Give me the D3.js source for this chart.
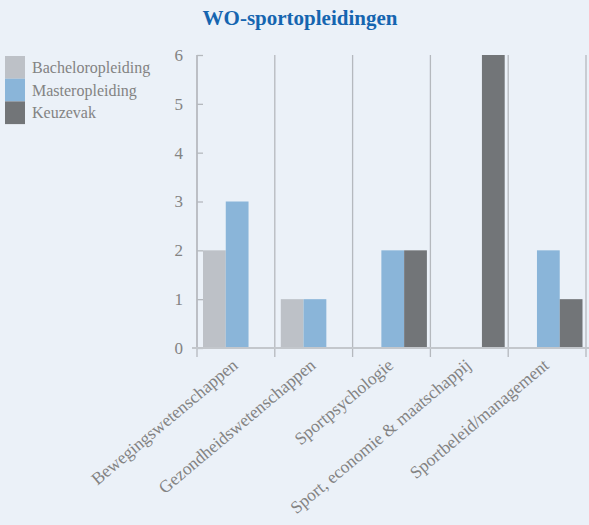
<!DOCTYPE html>
<html><head><meta charset="utf-8">
<script src="https://cdn.jsdelivr.net/npm/d3@7"></script>
<style>html,body{margin:0;padding:0;background:#ebf1f8;}svg{display:block;}</style>
</head><body>
<script>
const categories = ["Bewegingswetenschappen","Gezondheidswetenschappen","Sportpsychologie","Sport, economie & maatschappij","Sportbeleid/management"];
const seriesNames = ["Bacheloropleiding","Masteropleiding","Keuzevak"];
const bachelor = [2,1,0,0,0];
const master = [3,1,2,0,2];
const keuzevak = [0,0,2,6,1];
const yTicks = [0,1,2,3,4,5,6];
const colors = ["#bdc1c7","#8ab5d9","#727578"];
const title = "WO-sportopleidingen";

(function(){
const W=589,H=525;
const svg=d3.select("body").append("svg").attr("width",W).attr("height",H);
svg.append("rect").attr("width",W).attr("height",H).attr("fill","#ebf1f8");
const font="'Liberation Serif','Times New Roman',serif";
const textCol="#838383";
const pL=197,pR=586,pT=55,pB=348;
const x=d3.scaleBand().domain(categories).range([pL,pR]).padding(0);
const x1=d3.scaleBand().domain(seriesNames).range([6,x.bandwidth()-3.5]).padding(0);
const y=d3.scaleLinear().domain([0,6]).range([pB,pT]);
const series=[bachelor,master,keuzevak];

svg.append("text").attr("x",300).attr("y",25).attr("text-anchor","middle")
 .attr("font-family",font).attr("font-weight","bold").attr("font-size",21)
 .attr("fill","#1565b0").text(title);

const bounds=categories.map(c=>x(c)).concat([pR]);
svg.selectAll("line.vg").data(bounds).join("line")
 .attr("x1",d=>d).attr("x2",d=>d).attr("y1",pT).attr("y2",pB+9)
 .attr("stroke","#b5b9be").attr("stroke-width",1.3);

categories.forEach((c,i)=>{
  series.forEach((s,j)=>{
    if(s[i]>0) svg.append("rect").attr("x",x(c)+x1(seriesNames[j])).attr("width",x1.bandwidth())
      .attr("y",y(s[i])).attr("height",pB-y(s[i])).attr("fill",colors[j]);
  });
});

const yAxis=d3.axisLeft(y).tickValues(yTicks).tickFormat(d3.format("d")).tickSize(-6).tickPadding(14);
const ga=svg.append("g").attr("transform",`translate(${pL},0)`).call(yAxis);
ga.select(".domain").attr("stroke","#b5b9be").attr("stroke-width",1.3).attr("d",`M0,${pT}V${pB}`);
ga.selectAll(".tick line").attr("stroke","#b5b9be").attr("stroke-width",1.3);
ga.selectAll(".tick text").attr("font-family",font).attr("font-size",17).attr("fill",textCol);
svg.append("line").attr("x1",pL-5).attr("x2",W).attr("y1",pB).attr("y2",pB)
 .attr("stroke","#c3c7cc").attr("stroke-width",2);

svg.selectAll("text.xl").data(categories).join("text")
 .attr("text-anchor","end").attr("font-family",font).attr("font-size",17.5).attr("fill",textCol)
 .attr("transform",d=>`translate(${x(d)+x.bandwidth()/2+3},${pB+19}) rotate(-40)`)
 .text(d=>d);

seriesNames.forEach((n,j)=>{
  svg.append("rect").attr("x",5).attr("y",56+j*22.7).attr("width",20).attr("height",22.7).attr("fill",colors[j]);
  svg.append("text").attr("x",32).attr("y",56+j*22.7+17).attr("font-family",font).attr("font-size",16)
   .attr("fill",textCol).text(n);
});
})();
</script>
</body></html>
